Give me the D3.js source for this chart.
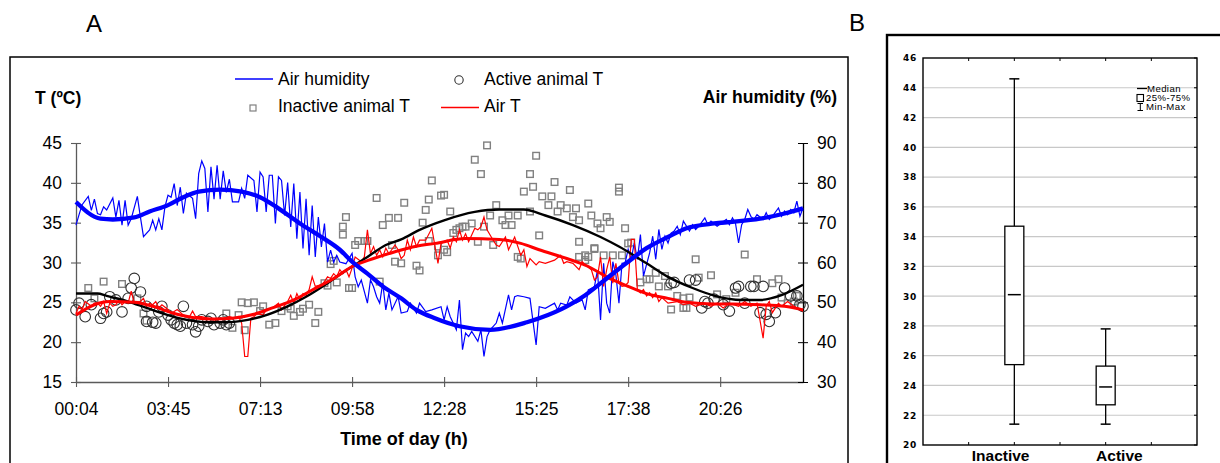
<!DOCTYPE html>
<html>
<head>
<meta charset="utf-8">
<script src="https://cdn.jsdelivr.net/npm/d3@7"></script>
<style>
  body { margin: 0; background: #fff; }
  svg text { font-family: "Liberation Sans", Arial, sans-serif; fill: #000; }
</style>
</head>
<body>
<svg id="chart" width="1220" height="463"></svg>
<script>
//Data (x = record number along the day)

const timeTicks = [0, 30, 60, 90, 120, 150, 180, 210];
const timeLabels = ["00:04", "03:45", "07:13", "09:58", "12:28", "15:25", "17:38", "20:26"];
const tTicks = [15, 20, 25, 30, 35, 40, 45];
const hTicks = [30, 40, 50, 60, 70, 80, 90];

// air humidity (%), raw record
const humidityRaw = [[0,69.4],[1,72],[2,74.5],[4,76.6],[5,73.1],[6,75.9],[7,72.3],[8,72],[9,74],[10,73.2],[12,76.2],[13,71.4],[14,75.6],[15,69.4],[16,75.6],[17,69.4],[18,71],[20,76.6],[21,71.4],[22,66.5],[24,68.2],[25,70.6],[26,68.2],[27,71],[28,68.2],[29,74],[30,76.9],[31,76.4],[32,79.8],[33,74.3],[34,78.9],[35,72.3],[36,77.4],[38,76.1],[39,71],[40,82.3],[41,85.5],[42,83.6],[43,72.7],[44,84],[45,75.9],[46,84.4],[47,75.9],[48,83],[49,77.6],[50,80.9],[51,75.2],[53,75.2],[54,78.6],[55,76.1],[56,81.9],[58,80.6],[59,72.7],[60,82.7],[61,81.5],[62,72.7],[63,81.9],[64,81.9],[65,69.8],[66,81.5],[67,80.6],[68,71.8],[69,80.1],[70,68.9],[71,79.8],[72,66],[73,77.7],[74,63.5],[75,76],[76,61.8],[77,74.3],[78,61.4],[79,71.4],[80,63.9],[81,69.8],[82,60.1],[83,63.1],[84,60.1],[85,61.8],[86,60.1],[88,59.7],[90,62.3],[91,56.4],[92,53.9],[93,55.6],[95,49.8],[96,55.6],[97,53.9],[98,51.4],[99,49.8],[100,54.8],[101,48.1],[102,52.3],[103,48.1],[105,51.4],[106,47.3],[108,47.7],[109,49.8],[111,47.3],[112,49.8],[114,47.7],[116,48.1],[119,48.9],[120,45.6],[121,48.9],[122,46.4],[124,43.1],[125,50.6],[126,38.1],[127,42.3],[128,41.4],[129,42.7],[131,40.2],[132,43.1],[133,36.4],[134,41.4],[135,43.1],[137,44.8],[138,47.3],[139,44.8],[141,51.9],[142,48.1],[143,51.4],[144,51.7],[146,51.4],[148,51],[150,39.3],[151,48.9],[153,48.5],[156,49.8],[157,48.1],[158,49.8],[160,49.3],[161,51.4],[163,49.8],[165,50.6],[166,48.1],[167,53.1],[169,53.9],[170,58.1],[171,45.6],[172,59.8],[173,49.8],[174,47.3],[175,60.2],[176,56.9],[177,49.8],[178,59.8],[179,59.9],[180,63.3],[181,60.8],[182,64.9],[183,60.8],[184,67],[185,56.6],[187,62.4],[188,66.6],[189,60.8],[190,68.3],[191,63.3],[192,66.6],[193,64.9],[194,67.4],[195,67.9],[196,69.1],[197,67],[198,70.4],[200,67.9],[201,69.5],[202,68.3],[203,69.1],[205,71.2],[206,69.5],[207,70.4],[209,69.1],[212,70.8],[213,69.5],[214,71.2],[215,69.8],[216,64.9],[217,69.5],[218,70.8],[219,73.3],[220,71.6],[221,70.8],[222,72],[224,70.8],[225,72.5],[226,70.8],[227,71.6],[229,73.7],[230,71.6],[231,72.9],[232,72],[233,73.3],[234,72.5],[235,75.4],[236,71.6],[237,73.7]];

// air humidity (%), smoothed
const humiditySmooth = [[0,75.2],[8,71],[12,70.8],[19,71.3],[24,72.8],[30,74.4],[35,76.4],[40,77.8],[47,78.3],[54,77.8],[60,76.4],[66,73.6],[73,69.8],[80,66.4],[86,63.2],[90,60.2],[95,57.2],[100,54],[106,51],[111,48.1],[117,46],[125,44],[135,43.1],[147,45],[151,46],[160,49],[166,51.8],[173,56],[180,60.2],[186,63.6],[193,66.4],[199,68.6],[208,69.8],[214,70.2],[223,71],[231,72.3],[237,73.6]];

// air temperature (ºC), raw record
const airTRaw = [[0,23.6],[1,24.5],[2,24.1],[3,25.1],[5,24.5],[6,24.9],[7,24.9],[8,24.5],[9,25.1],[10,23.6],[11,24.9],[12,24.5],[13,24.7],[14,25.3],[15,24.7],[16,25.1],[17,24.9],[18,26.4],[19,24.9],[21,25.1],[22,25.5],[23,24.5],[24,24.9],[25,24.7],[26,25.1],[27,24.3],[28,24.7],[30,24.1],[31,23.6],[33,24.1],[35,23.4],[37,23.2],[38,23.9],[39,23.2],[41,23.2],[45,22.8],[48,23],[50,23.2],[52,23],[53,23.2],[54,22.4],[55,18.2],[56,18.2],[57,23],[58,23.2],[59,23.6],[61,23.4],[62,24.05],[64,24.3],[66,24.9],[67,24.05],[69,25.1],[70,25.9],[71,24.9],[72,26.1],[73,25.3],[74,26.1],[75,25.9],[76,26.6],[77,28.2],[78,27],[80,27.2],[81,27.6],[82,28.2],[83,28],[84,28.6],[85,28.2],[86,29.1],[87,28.6],[88,29.1],[89,28.2],[90,29.3],[91,30.7],[93,30.1],[94,30.7],[95,34.1],[96,31.1],[97,32],[98,30.9],[99,31.6],[100,30.7],[101,31.8],[102,31.1],[104,32.2],[105,31.6],[106,30.5],[107,30.9],[108,32.8],[109,31.6],[110,33.2],[111,32],[112,32.8],[114,32.8],[116,34.3],[118,29.9],[119,32.4],[121,32.8],[122,31.8],[123,33.2],[124,32.6],[125,34.1],[126,32.8],[127,33.6],[128,32.6],[130,34.3],[131,34.1],[132,34.5],[133,35.7],[134,34.1],[136,32.8],[137,32.2],[138,32],[140,33.2],[141,31.6],[143,33.2],[145,30.9],[146,31.6],[147,29.5],[148,30.5],[150,29.7],[151,30.1],[153,29.9],[156,30.3],[158,30.9],[159,29.9],[160,30.1],[162,29.9],[164,29.1],[165,30.1],[166,29.7],[168,29.1],[169,27.8],[170,28.2],[171,30.7],[172,27],[173,29.1],[174,30.7],[175,27.4],[176,29.9],[177,27.4],[178,27],[179,27.1],[180,27.5],[181,32.9],[182,32.9],[183,26.6],[184,26.2],[185,26.6],[186,25.8],[187,26.2],[188,25.6],[189,26.2],[190,25.1],[191,25.6],[193,24.9],[196,25.1],[198,24.7],[200,24.9],[202,24.5],[205,24.9],[207,24.5],[209,24.9],[211,24.3],[213,24.9],[216,24.5],[218,25.1],[220,24.5],[222,24.9],[224,20.5],[225,24.5],[226,25.1],[227,23.7],[229,24.9],[230,24.5],[232,25.1],[234,24.5],[237,23.9]];

// air temperature (ºC), smoothed
const airTSmooth = [[0,23.4],[6,24.7],[11,25.1],[19,25],[25,24.5],[32,23.6],[38,23.1],[45,22.9],[51,23],[58,23.5],[64,24.3],[71,25.3],[77,26.55],[84,28],[90,29.5],[97,30.5],[104,31.35],[111,32.05],[117,32.4],[127,33],[138,32.9],[145,32.4],[151,31.6],[160,30.5],[167,29.5],[173,28.2],[180,27],[186,26.1],[193,25.5],[199,25],[208,24.8],[214,24.8],[223,24.7],[231,24.5],[237,24.05]];

// animal body temperature (ºC), smoothed
const animalTSmooth = [[0,26.1],[7,26.1],[10,25.8],[17,25.1],[23,24.3],[30,23.4],[36,22.8],[43,22.5],[49,22.5],[56,22.8],[62,23.4],[69,24.5],[75,25.7],[82,27.4],[88,29],[95,30.7],[101,32.2],[106,32.9],[112,34.1],[120,35.3],[130,36.35],[138,36.65],[146,36.65],[153,35.9],[162,34.7],[171,33.2],[177,32],[186,29.9],[193,28.2],[201,26.8],[208,25.85],[217,25.3],[223,25.3],[230,25.9],[237,27.2]];

// inactive animal temperature (ºC)
const inactiveT = [[4,26.8],[6,25.5],[9,27.6],[15,27.3],[20,25.5],[22,23.6],[23,22.7],[49,23.6],[51,21.8],[53,23.4],[54,25],[55,21.5],[56,24.9],[58,25],[60,23.9],[61,24.5],[63,22.2],[65,22.4],[67,23.9],[69,24.5],[70,24.2],[71,23.3],[73,23.8],[74,24.2],[76,24.7],[78,22.4],[79,23.8],[81,27.4],[82,27.1],[83,29.8],[84,30.2],[85,27.5],[87,33.5],[87,34.5],[88,35.7],[89,26.8],[90,26.8],[91,32.2],[92,32.7],[94,32.7],[95,32.7],[98,38.1],[99,27.6],[100,34.7],[102,35.6],[103,32.2],[104,30.1],[105,35.6],[106,29.9],[107,37.5],[111,29.6],[112,29],[113,35],[114,36.6],[115,32.7],[115,37.9],[116,40.3],[118,32],[118,30.9],[119,38.4],[120,31.6],[120,38.5],[122,36.4],[123,33.7],[124,34.1],[125,34.3],[126,34.5],[127,34.5],[129,34.9],[133,34.5],[130,42.9],[132,41.1],[134,44.7],[137,37.2],[135,35.9],[139,35.3],[140,34.7],[141,35.9],[142,34.7],[144,35.9],[136,32.2],[131,32.6],[121,31.3],[145,30.5],[144,30.7],[148,36.4],[150,43.4],[148,41.1],[149,39.5],[146,38.9],[152,38.3],[155,38.3],[156,40.1],[151,33.4],[154,37.2],[157,36.4],[158,37.2],[160,36.8],[161,39.1],[163,36.8],[162,35.7],[164,35.3],[164,32.6],[167,37.4],[168,35.9],[170,34.9],[171,34.3],[173,35.7],[174,35.1],[169,31.7],[166,30.9],[166,30.3],[172,30.9],[175,30.9],[177,38.9],[177,39.4],[179,34.3],[180,32.4],[164,30.7],[167,30.7],[169,31.8],[178,30.9],[181,32.5],[184,27.5],[186,27.9],[187,27.9],[189,28.7],[190,27],[192,28.3],[193,27],[194,24.1],[196,25.8],[198,24.3],[200,25.6],[202,30.4],[203,28.1],[207,28.4],[209,26],[212,25.4],[215,26.2],[218,31],[222,27.9],[227,27.4],[229,27.9],[230,25.6],[232,24.9],[234,25.1],[235,25.8],[198,25.5],[199,24.3]];

// active animal temperature (ºC)
const activeT = [[0,24.05],[1,24.9],[3,23.2],[5,24.7],[8,23],[9,23.6],[10,23.8],[11,25.7],[13,25.3],[15,23.8],[17,25.5],[18,26.8],[19,28],[21,26.3],[23,24.5],[23,22.6],[25,22.5],[26,22.4],[27,23.8],[28,24.5],[30,23.4],[31,22.8],[32,22.4],[33,22.2],[34,22],[35,24.5],[36,22.4],[38,22.2],[39,21.3],[40,22],[41,22.8],[43,22.6],[44,23],[45,22.2],[47,22.4],[48,22.8],[49,22.2],[50,22.4],[194,27.4],[195,27.5],[200,27.8],[202,27.8],[204,24.3],[205,25.1],[206,24.9],[208,25.4],[211,24.7],[213,23.9],[215,26.8],[216,27],[218,24.9],[220,27],[221,27],[223,23.7],[224,27],[225,23.5],[226,22.6],[228,23.7],[231,26.8],[233,25.8],[235,25.8],[236,24.7],[237,24.5]];

// box plot (panel B)
const groups = ["Inactive", "Active"];
const boxMin = [21.4, 21.4];
const boxQ1 = [25.4, 22.7];
const boxMedian = [30.1, 23.9];
const boxQ3 = [34.7, 25.3];
const boxMax = [44.6, 27.8];
const boxTicks = [20, 22, 24, 26, 28, 30, 32, 34, 36, 38, 40, 42, 44, 46];

const svg = d3.select("#chart");

//Panel frames and letters
svg.append("rect")
   .attr("x", 10).attr("y", 57)
   .attr("width", 838).attr("height", 440)
   .attr("fill", "none").attr("stroke", "#000").attr("stroke-width", 1.5);

svg.append("rect")
   .attr("x", 887).attr("y", 35)
   .attr("width", 400).attr("height", 460)
   .attr("fill", "none").attr("stroke", "#000").attr("stroke-width", 2.4);

svg.append("text").attr("x", 86).attr("y", 32).style("font-size", "24px").text("A");
svg.append("text").attr("x", 849).attr("y", 31).style("font-size", "24px").text("B");

//Scales panel A
const x = d3.scaleLinear().domain([0, 237]).range([76, 803]);
const yT = d3.scaleLinear().domain([15, 45]).range([382, 143]);
const yH = d3.scaleLinear().domain([30, 90]).range([382, 143]);

//Axes panel A
const xAxis = d3.axisBottom(x)
                .tickValues(timeTicks)
                .tickFormat((d, i) => timeLabels[i])
                .tickSizeInner(5).tickSizeOuter(0).tickPadding(16);

const leftAxis = d3.axisLeft(yT)
                   .tickValues(tTicks)
                   .tickSizeInner(5).tickSizeOuter(0).tickPadding(9);

const rightAxis = d3.axisRight(yH)
                    .tickValues(hTicks)
                    .tickSizeInner(5).tickSizeOuter(0).tickPadding(9);

const gx = svg.append("g")
   .attr("transform", "translate(0,382)")
   .call(xAxis);
gx.selectAll(".tick line").attr("y1", -5);

const gl = svg.append("g")
   .attr("transform", "translate(76,0)")
   .call(leftAxis);
gl.selectAll(".tick line").attr("x1", 5);

const gr = svg.append("g")
   .attr("transform", "translate(803,0)")
   .call(rightAxis);
gr.selectAll(".tick line").attr("x1", -5);

[gx, gl].forEach(g => {
	g.select(".domain").attr("stroke", "#5a5a5a").attr("stroke-width", 1.3);
	g.selectAll(".tick line").attr("stroke", "#5a5a5a").attr("stroke-width", 1.1);
});
gr.select(".domain").attr("stroke", "#000").attr("stroke-width", 1.3);
gr.selectAll(".tick line").attr("stroke", "#000");

[gx, gl, gr].forEach(g => {
	g.selectAll(".tick text")
	 .style("font-family", "'Liberation Sans', Arial, sans-serif")
	 .style("font-size", "17.5px")
	 .attr("fill", "#000");
});

//Axis titles
svg.append("text")
   .attr("x", 35).attr("y", 104)
   .style("font-size", "17.5px").style("font-weight", "bold")
   .text("T (ºC)");

svg.append("text")
   .attr("x", 837).attr("y", 103)
   .attr("text-anchor", "end")
   .style("font-size", "17.5px").style("font-weight", "bold")
   .text("Air humidity (%)");

svg.append("text")
   .attr("x", 404).attr("y", 445)
   .attr("text-anchor", "middle")
   .style("font-size", "18px").style("font-weight", "bold")
   .text("Time of day (h)");

//Scatter points
svg.append("g")
   .selectAll("rect")
   .data(inactiveT)
   .enter()
   .append("rect")
   .attr("x", d => x(d[0]) - 3.3)
   .attr("y", d => yT(d[1]) - 3.3)
   .attr("width", 6.6).attr("height", 6.6)
   .attr("fill", "none")
   .attr("stroke", "#808080")
   .attr("stroke-width", 1.4);

svg.append("g")
   .selectAll("circle")
   .data(activeT)
   .enter()
   .append("circle")
   .attr("cx", d => x(d[0]))
   .attr("cy", d => yT(d[1]))
   .attr("r", 5.3)
   .attr("fill", "none")
   .attr("stroke", "#303030")
   .attr("stroke-width", 1.1);

//Lines
const lineT = d3.line().x(d => x(d[0])).y(d => yT(d[1]));
const lineH = d3.line().x(d => x(d[0])).y(d => yH(d[1]));
const smoothT = d3.line().x(d => x(d[0])).y(d => yT(d[1])).curve(d3.curveMonotoneX);
const smoothH = d3.line().x(d => x(d[0])).y(d => yH(d[1])).curve(d3.curveMonotoneX);

svg.append("path").attr("d", lineH(humidityRaw))
   .attr("fill", "none").attr("stroke", "#0000ff").attr("stroke-width", 1.2);

svg.append("path").attr("d", lineT(airTRaw))
   .attr("fill", "none").attr("stroke", "#ff0000").attr("stroke-width", 1.2);

svg.append("path").attr("d", smoothT(animalTSmooth))
   .attr("fill", "none").attr("stroke", "#000").attr("stroke-width", 2.4);

svg.append("path").attr("d", smoothT(airTSmooth))
   .attr("fill", "none").attr("stroke", "#ff0000").attr("stroke-width", 3);

svg.append("path").attr("d", smoothH(humiditySmooth))
   .attr("fill", "none").attr("stroke", "#0000ff").attr("stroke-width", 4.3);

//Legend panel A
const legA = svg.append("g").style("font-size", "17.5px");

legA.append("line").attr("x1", 235).attr("x2", 273).attr("y1", 79).attr("y2", 79)
    .attr("stroke", "#0000ff").attr("stroke-width", 1.5);
legA.append("text").attr("x", 278).attr("y", 84.5).text("Air humidity");

legA.append("rect").attr("x", 250).attr("y", 105).attr("width", 6).attr("height", 6)
    .attr("fill", "none").attr("stroke", "#808080").attr("stroke-width", 1.2);
legA.append("text").attr("x", 278).attr("y", 112).text("Inactive animal T");

legA.append("circle").attr("cx", 459).attr("cy", 80).attr("r", 4.2)
    .attr("fill", "none").attr("stroke", "#303030").attr("stroke-width", 1.1);
legA.append("text").attr("x", 484).attr("y", 84.5).text("Active animal T");

legA.append("line").attr("x1", 441).attr("x2", 479).attr("y1", 107.5).attr("y2", 107.5)
    .attr("stroke", "#ff0000").attr("stroke-width", 1.5);
legA.append("text").attr("x", 484).attr("y", 112).text("Air T");

//Panel B scales
const xB = d3.scaleLinear().domain([0, 6]).range([923, 1197]);
const yB = d3.scaleLinear().domain([20, 46]).range([445, 58]);

//Grid
svg.append("g")
   .selectAll("line")
   .data(boxTicks.slice(1, -1))
   .enter()
   .append("line")
   .attr("x1", xB(0)).attr("x2", xB(6))
   .attr("y1", d => yB(d)).attr("y2", d => yB(d))
   .attr("stroke", "#c8c8c8").attr("stroke-width", 1.2);

//Axis B labels
const gb = svg.append("g")
   .attr("transform", "translate(" + xB(0) + ",0)")
   .call(d3.axisLeft(yB).tickValues(boxTicks).tickSize(0).tickPadding(6));
gb.select(".domain").remove();
gb.selectAll(".tick text")
  .style("font-family", "'DejaVu Sans', sans-serif")
  .style("font-size", "9px").style("font-weight", "bold")
  .style("letter-spacing", "0.8px")
  .attr("fill", "#222");

//Small inward ticks of the box frame
const catTicks = [1, 2, 3, 4, 5];
svg.append("g").selectAll("line").data(catTicks).enter().append("line")
   .attr("x1", d => xB(d)).attr("x2", d => xB(d))
   .attr("y1", yB(46)).attr("y2", yB(46) + 3)
   .attr("stroke", "#000");
svg.append("g").selectAll("line").data(catTicks).enter().append("line")
   .attr("x1", d => xB(d)).attr("x2", d => xB(d))
   .attr("y1", yB(20)).attr("y2", yB(20) - 3)
   .attr("stroke", "#000");
svg.append("g").selectAll("line").data(boxTicks).enter().append("line")
   .attr("x1", xB(6)).attr("x2", xB(6) - 3)
   .attr("y1", d => yB(d)).attr("y2", d => yB(d))
   .attr("stroke", "#000");

svg.append("rect")
   .attr("x", xB(0)).attr("y", yB(46))
   .attr("width", xB(6) - xB(0)).attr("height", yB(20) - yB(46))
   .attr("fill", "none").attr("stroke", "#000").attr("stroke-width", 1.4);

//Boxes
const boxPos = [2, 4];
const boxW = 19;
const capW = 10;
const medW = 13;

groups.forEach((g, i) => {
	const cx = xB(boxPos[i]);
	const bg = svg.append("g").attr("stroke", "#000").attr("fill", "none");
	bg.append("line").attr("x1", cx).attr("x2", cx)
	  .attr("y1", yB(boxMax[i])).attr("y2", yB(boxQ3[i])).attr("stroke-width", 1.3);
	bg.append("line").attr("x1", cx).attr("x2", cx)
	  .attr("y1", yB(boxQ1[i])).attr("y2", yB(boxMin[i])).attr("stroke-width", 1.3);
	bg.append("line").attr("x1", cx - capW / 2).attr("x2", cx + capW / 2)
	  .attr("y1", yB(boxMax[i])).attr("y2", yB(boxMax[i])).attr("stroke-width", 1.5);
	bg.append("line").attr("x1", cx - capW / 2).attr("x2", cx + capW / 2)
	  .attr("y1", yB(boxMin[i])).attr("y2", yB(boxMin[i])).attr("stroke-width", 1.5);
	bg.append("rect").attr("x", cx - boxW / 2).attr("y", yB(boxQ3[i]))
	  .attr("width", boxW).attr("height", yB(boxQ1[i]) - yB(boxQ3[i]))
	  .attr("fill", "#fff").attr("stroke-width", 1.3);
	bg.append("line").attr("x1", cx - medW / 2).attr("x2", cx + medW / 2)
	  .attr("y1", yB(boxMedian[i])).attr("y2", yB(boxMedian[i])).attr("stroke-width", 1.5);
});

//Category labels
const labelPos = [1.7, 4.3];
svg.append("g")
   .selectAll("text")
   .data(groups)
   .enter()
   .append("text")
   .attr("x", (d, i) => xB(labelPos[i]))
   .attr("y", 461)
   .attr("text-anchor", "middle")
   .style("font-size", "15.5px").style("font-weight", "bold")
   .text(d => d);

//Legend panel B
const legB = svg.append("g")
   .style("font-family", "'DejaVu Sans', sans-serif")
   .style("font-size", "9.6px")
   .style("letter-spacing", "0.4px");

legB.append("line").attr("x1", 1137).attr("x2", 1147).attr("y1", 88.5).attr("y2", 88.5)
    .attr("stroke", "#000").attr("stroke-width", 1.3);
legB.append("text").attr("x", 1147).attr("y", 92).text("Median");
legB.append("rect").attr("x", 1137).attr("y", 94.5).attr("width", 6.5).attr("height", 7)
    .attr("fill", "none").attr("stroke", "#000").attr("stroke-width", 1.1);
legB.append("text").attr("x", 1146).attr("y", 101).text("25%-75%");
legB.append("line").attr("x1", 1140.3).attr("x2", 1140.3).attr("y1", 103.5).attr("y2", 110.5)
    .attr("stroke", "#000");
legB.append("line").attr("x1", 1137.5).attr("x2", 1143).attr("y1", 103.5).attr("y2", 103.5)
    .attr("stroke", "#000");
legB.append("line").attr("x1", 1137.5).attr("x2", 1143).attr("y1", 110.5).attr("y2", 110.5)
    .attr("stroke", "#000");
legB.append("text").attr("x", 1146).attr("y", 110).text("Min-Max");
</script>
</body>
</html>
